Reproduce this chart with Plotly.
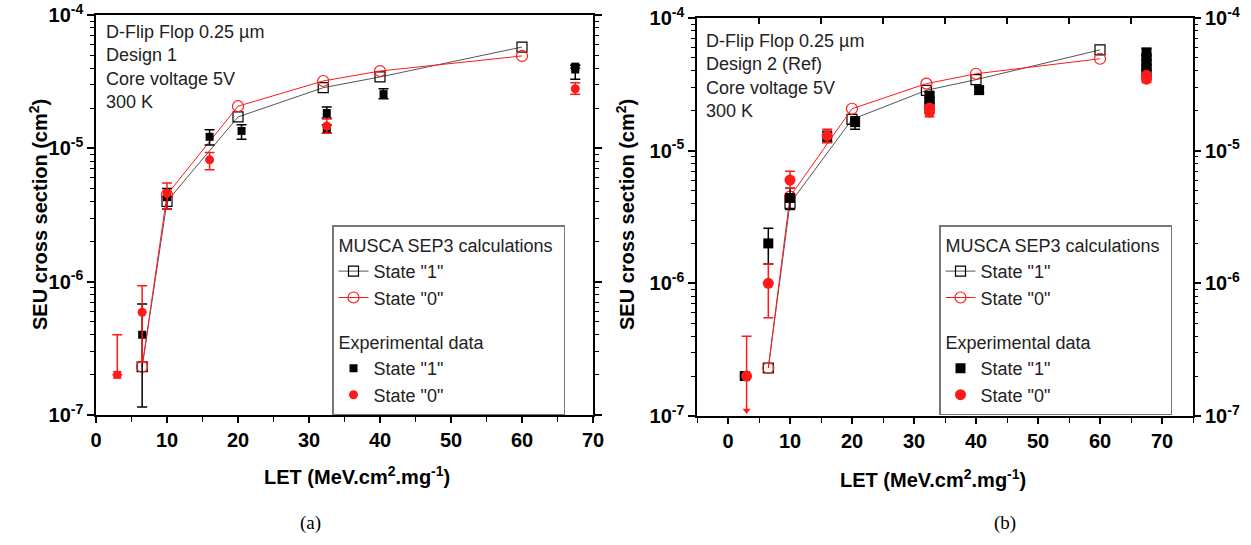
import plotly.graph_objects as go

# MUSCA SEP3 calculations (same in both panels)
calc_let = [6.5, 10, 20, 32, 40, 60]
calc_s1 = [2.3e-7, 4.0e-6, 1.72e-5, 2.85e-5, 3.43e-5, 5.75e-5]
calc_s0 = [2.3e-7, 4.5e-6, 2.07e-5, 3.2e-5, 3.8e-5, 4.93e-5]

# (a) Design 1 - experimental data
a_s1_let = [6.5, 10, 16, 20.5, 32.5, 32.5, 40.5, 67.5, 67.5]
a_s1_val = [4.0e-7, 4.3e-6, 1.22e-5, 1.35e-5, 1.84e-5, 1.4e-5, 2.55e-5, 3.9e-5, 4.1e-5]
a_s1_up = [2.8e-7, 0.7e-6, 0.16e-5, 0.15e-5, 0.2e-5, 0.1e-5, 0.25e-5, 0.3e-5, 0.1e-5]
a_s1_dn = [2.85e-7, 0.8e-6, 0.16e-5, 0.18e-5, 0.15e-5, 0.1e-5, 0.2e-5, 0.6e-5, 0.1e-5]
a_s0_let = [6.5, 10, 16, 32.5, 67.5]
a_s0_val = [5.9e-7, 4.6e-6, 8.2e-6, 1.47e-5, 2.8e-5]
a_s0_up = [3.4e-7, 0.9e-6, 1.1e-6, 0.19e-5, 0.3e-5]
a_s0_dn = [3.4e-7, 1.1e-6, 1.3e-6, 0.17e-5, 0.25e-5]
a_low_let = [3]
a_low_val = [2.0e-7]
a_low_up = [2.0e-7]

# (b) Design 2 (Ref) - experimental data
b_s1_let = [2.7, 6.5, 10, 16, 20.5, 32.5, 32.5, 32.5, 40.5, 67.5, 67.5, 67.5, 67.5, 67.5]
b_s1_val = [2.0e-7, 2.0e-6, 4.4e-6, 1.27e-5, 1.64e-5, 2.6e-5, 2.4e-5, 2.2e-5, 2.86e-5,
            5.5e-5, 5.0e-5, 4.6e-5, 4.2e-5, 3.9e-5]
b_s1_up = [0, 0.6e-6, 0.8e-6, 0.13e-5, 0.16e-5, 0.15e-5, 0.1e-5, 0.1e-5, 0.15e-5,
           0.4e-5, 0.2e-5, 0.2e-5, 0.2e-5, 0.2e-5]
b_s1_dn = [0, 0.6e-6, 0.8e-6, 0.12e-5, 0.19e-5, 0.1e-5, 0.1e-5, 0.1e-5, 0.15e-5,
           0.2e-5, 0.2e-5, 0.2e-5, 0.2e-5, 0.3e-5]
b_s0_let = [3, 6.5, 10, 16, 32.5, 32.5, 67.5, 67.5]
b_s0_val = [2.0e-7, 1.0e-6, 6.0e-6, 1.3e-5, 2.1e-5, 1.95e-5, 3.7e-5, 3.46e-5]
b_s0_up = [2.0e-7, 0.4e-6, 1.0e-6, 0.15e-5, 0.1e-5, 0.1e-5, 0.1e-5, 0.1e-5]
b_s0_dn = [0, 0.45e-6, 0.8e-6, 0.15e-5, 0.1e-5, 0.15e-5, 0.1e-5, 0.2e-5]
# upper limit at LET 3: arrow pointing down from the point
b_arrow_let = [3]
b_arrow_val = [1.1e-7]
b_arrow_len = [0.9e-7]

y_ticks = [1e-7, 1e-6, 1e-5, 1e-4]
y_text = ["10<sup>-7</sup>", "10<sup>-6</sup>", "10<sup>-5</sup>", "10<sup>-4</sup>"]
y_minor = [k * 10.0 ** e for e in (-7, -6, -5) for k in range(2, 10)]

RED = "#ff1a1a"
FONT = "Liberation Sans, Arial, sans-serif"


def err(up, dn, color, width=5):
    return dict(type="data", symmetric=False, array=up, arrayminus=dn,
                color=color, thickness=1.5, width=width)


fig = go.Figure()

for xa, ya, leg in [("x", "y", "legend"), ("x2", "y2", "legend2")]:
    fig.add_trace(go.Scatter(
        x=calc_let, y=calc_s1, mode="lines+markers", name='State "1"',
        line=dict(color="#555555", width=1),
        marker=dict(symbol="square-open", size=10, color="black", line=dict(width=1.2)),
        legendgroup="calc", legendgrouptitle=dict(text="MUSCA SEP3 calculations"),
        xaxis=xa, yaxis=ya, legend=leg))
    fig.add_trace(go.Scatter(
        x=calc_let, y=calc_s0, mode="lines+markers", name='State "0"',
        line=dict(color=RED, width=1),
        marker=dict(symbol="circle-open", size=11, color=RED, line=dict(width=1.2)),
        legendgroup="calc", xaxis=xa, yaxis=ya, legend=leg))

# panel (a) experimental
fig.add_trace(go.Scatter(
    x=a_low_let, y=a_low_val, mode="markers", showlegend=False,
    marker=dict(symbol="square", size=8, color=RED),
    error_y=err(a_low_up, [0], RED), xaxis="x", yaxis="y"))
fig.add_trace(go.Scatter(
    x=a_s1_let, y=a_s1_val, mode="markers", name='State "1"',
    marker=dict(symbol="square", size=8, color="black"),
    error_y=err(a_s1_up, a_s1_dn, "black"),
    legendgroup="exp", legendgrouptitle=dict(text="Experimental data"),
    xaxis="x", yaxis="y", legend="legend"))
fig.add_trace(go.Scatter(
    x=a_s0_let, y=a_s0_val, mode="markers", name='State "0"',
    marker=dict(symbol="circle", size=9, color=RED),
    error_y=err(a_s0_up, a_s0_dn, RED),
    legendgroup="exp", xaxis="x", yaxis="y", legend="legend"))

# panel (b) experimental
fig.add_trace(go.Scatter(
    x=b_arrow_let, y=b_arrow_val, mode="markers", showlegend=False,
    marker=dict(symbol="triangle-down", size=7, color=RED),
    error_y=err(b_arrow_len, [0], RED, width=0),
    xaxis="x2", yaxis="y2"))
fig.add_trace(go.Scatter(
    x=b_s1_let, y=b_s1_val, mode="markers", name='State "1"',
    marker=dict(symbol="square", size=10, color="black"),
    error_y=err(b_s1_up, b_s1_dn, "black"),
    legendgroup="exp", legendgrouptitle=dict(text="Experimental data"),
    xaxis="x2", yaxis="y2", legend="legend2"))
fig.add_trace(go.Scatter(
    x=b_s0_let, y=b_s0_val, mode="markers", name='State "0"',
    marker=dict(symbol="circle", size=11, color=RED),
    error_y=err(b_s0_up, b_s0_dn, RED),
    legendgroup="exp", xaxis="x2", yaxis="y2", legend="legend2"))

# invisible trace to carry the extra axes of panel (b)
fig.add_trace(go.Scatter(x=calc_let, y=calc_s1, mode="lines", line=dict(width=0),
                         opacity=0, showlegend=False, hoverinfo="skip",
                         xaxis="x3", yaxis="y3"))

tickfont = dict(family=FONT, size=20, color="black", weight="bold")
common_x = dict(dtick=10, showgrid=False, zeroline=False, showline=True, linecolor="black",
                linewidth=1.5, ticks="outside", ticklen=6, tickwidth=1.5, tickcolor="black",
                minor=dict(dtick=5, ticks="outside", ticklen=5, tickwidth=1.2, tickcolor="black"),
                tickfont=tickfont, automargin=False)
common_y = dict(type="log", range=[-7, -4], tickvals=y_ticks, ticktext=y_text,
                showgrid=False, zeroline=False, showline=True, linecolor="black",
                linewidth=1.5, ticks="outside", ticklen=7, tickwidth=1.5, tickcolor="black",
                minor=dict(tickvals=y_minor, ticks="outside", ticklen=4, tickwidth=1.2,
                           tickcolor="black"),
                tickfont=tickfont, automargin=False)

legend_common = dict(yanchor="top", xanchor="left", bgcolor="white", bordercolor="#777777",
                     borderwidth=1.5, font=dict(family=FONT, size=18, color="#222222"),
                     grouptitlefont=dict(family=FONT, size=18, color="#222222"),
                     tracegroupgap=18)

fig.update_layout(
    width=1251, height=545, margin=dict(l=0, r=0, t=0, b=0),
    paper_bgcolor="white", plot_bgcolor="white",
    xaxis=dict(common_x, domain=[96 / 1251, 593 / 1251], range=[0, 70], anchor="y",
               mirror=True),
    yaxis=dict(common_y, domain=[130 / 545, 530 / 545], anchor="x", mirror="ticks"),
    xaxis2=dict(common_x, domain=[697 / 1251, 1193 / 1251], range=[-5, 75], anchor="y2",
                mirror=True),
    yaxis2=dict(common_y, domain=[129 / 545, 527 / 545], anchor="x2", mirror=True),
    xaxis3=dict(overlaying="x2", side="top", anchor="y3", range=[-5, 75], showgrid=False,
                zeroline=False, showline=False, showticklabels=False, ticks="inside",
                ticklen=6, tickwidth=1.5, tickcolor="black",
                tickvals=[5, 15, 25, 35, 45, 55, 65]),
    yaxis3=dict(common_y, overlaying="y2", side="right", anchor="x3", showline=False),
    legend=dict(legend_common, x=332 / 1251, y=1 - 225 / 545),
    legend2=dict(legend_common, x=939 / 1251, y=1 - 225 / 545),
    showlegend=True,
)

ann_font = dict(family=FONT, size=18, color="#222222")
title_font = dict(family=FONT, size=20, color="black", weight="bold")
fig.add_annotation(xref="paper", yref="paper", x=104 / 1251, y=1 - 20 / 545,
                   xanchor="left", yanchor="top", align="left", showarrow=False,
                   text="D-Flip Flop 0.25 µm<br>Design 1<br>Core voltage 5V<br>300 K",
                   font=ann_font)
fig.add_annotation(xref="paper", yref="paper", x=704 / 1251, y=1 - 29 / 545,
                   xanchor="left", yanchor="top", align="left", showarrow=False,
                   text="D-Flip Flop 0.25 µm<br>Design 2 (Ref)<br>Core voltage 5V<br>300 K",
                   font=ann_font)
for cx, cy in [(38, 215), (625, 215)]:
    fig.add_annotation(xref="paper", yref="paper", x=cx / 1251, y=1 - cy / 545,
                       xanchor="center", yanchor="middle",
                       textangle=-90, showarrow=False, font=title_font,
                       text="SEU cross section (cm<sup>2</sup>)")
for cx, cy in [(357, 475), (933, 478)]:
    fig.add_annotation(xref="paper", yref="paper", x=cx / 1251, y=1 - cy / 545,
                       xanchor="center", yanchor="middle",
                       showarrow=False, font=title_font,
                       text="LET (MeV.cm<sup>2</sup>.mg<sup>-1</sup>)")
for cx, lab in [(310, "(a)"), (1005, "(b)")]:
    fig.add_annotation(xref="paper", yref="paper", x=cx / 1251, y=1 - 523 / 545,
                       xanchor="center", yanchor="middle",
                       showarrow=False, text=lab,
                       font=dict(family="Liberation Serif, Times New Roman, serif", size=19,
                                 color="black"))

fig.write_html("out.html", config={"displayModeBar": False},
               post_script="document.body.style.margin='0px';")
